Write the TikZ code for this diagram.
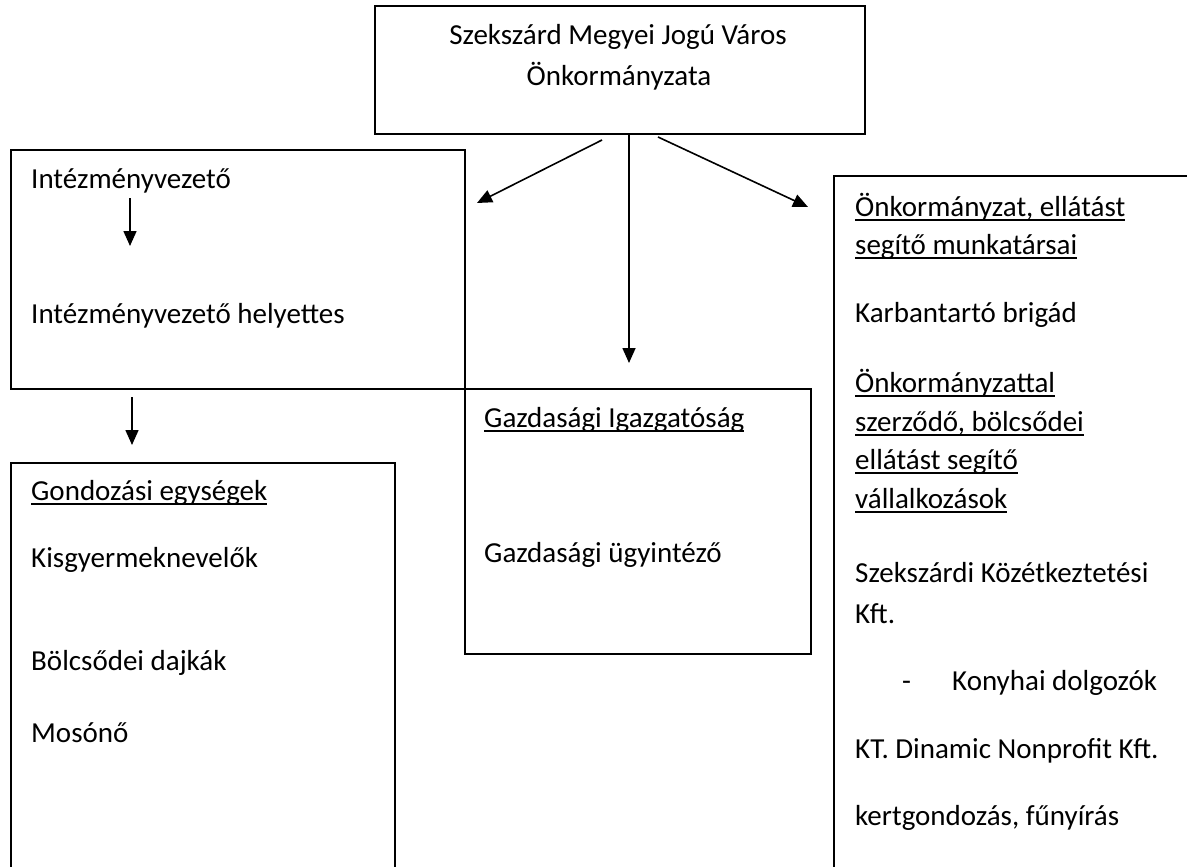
\documentclass[tikz,border=0pt]{standalone}
\usepackage{fontspec}
\setmainfont{Carlito}
\usetikzlibrary{arrows.meta}
\newcommand\myul[1]{\setbox0\hbox{#1}\rlap{\rule[-4.5pt]{\wd0}{1.8pt}}\box0}
\begin{document}
\begin{tikzpicture}[x=1pt,y=-1pt,
  boxst/.style={draw, line width=1.6pt, rectangle, inner sep=0pt, anchor=north west},
  txt/.style={anchor=base west, inner sep=0pt, font=\fontsize{29}{35}\selectfont},
  ctxt/.style={anchor=base, inner sep=0pt, font=\fontsize{29}{35}\selectfont},
  arr/.style={line width=1.6pt, -{Triangle[length=15pt,width=13pt]}}]
\useasboundingbox (0,0) rectangle (1187,867);
\clip (0,0) rectangle (1187,867);
% boxes
\node[boxst, minimum width=490pt, minimum height=128pt] (top) at (374,5) {};
\node[boxst, minimum width=454pt, minimum height=239pt] (lead) at (10,149) {};
\node[boxst, minimum width=346pt, minimum height=265pt] (gazd) at (464,388) {};
\node[boxst, minimum width=384pt, minimum height=460pt] (gond) at (10,462) {};
\node[boxst, minimum width=400pt, minimum height=750pt] (onk) at (833,175) {};
% top box text
\node[ctxt] (t1) at (618,45) {Szekszárd Megyei Jogú Város};
\node[ctxt] (t2) at (619,85) {Önkormányzata};
% left box text
\node[txt] (l1) at (31,188) {Intézményvezető};
\node[txt] (l2) at (31,323) {Intézményvezető helyettes};
% middle box text
\node[txt] (g1) at (484,427) {\myul{Gazdasági Igazgatóság}};
\node[txt] (g2) at (484,562) {Gazdasági ügyintéző};
% bottom left box text
\node[txt] (c1) at (31,500) {\myul{Gondozási egységek}};
\node[txt] (c2) at (31,567) {Kisgyermeknevelők};
\node[txt] (c3) at (31,670) {Bölcsődei dajkák};
\node[txt] (c4) at (31,742) {Mosónő};
% right box text
\node[txt] (r1) at (855,216) {\myul{Önkormányzat, ellátást}};
\node[txt] (r2) at (855,254) {\myul{segítő munkatársai}};
\node[txt] (r3) at (855,322) {Karbantartó brigád};
\node[txt] (r4) at (855,392) {\myul{Önkormányzattal}};
\node[txt] (r5) at (855,431) {\myul{szerződő, bölcsődei}};
\node[txt] (r6) at (855,469) {\myul{ellátást segítő}};
\node[txt] (r7) at (855,508) {\myul{vállalkozások}};
\node[txt] (r8) at (855,582) {Szekszárdi Közétkeztetési};
\node[txt] (r9) at (855,623) {Kft.};
\node[txt] (r10) at (902,690) {\makebox[50pt][l]{-}Konyhai dolgozók};
\node[txt] (r11) at (855,758) {KT. Dinamic Nonprofit Kft.};
\node[txt] (r12) at (855,825) {kertgondozás, fűnyírás};
% connector ends
\coordinate (a1s) at (602,140); \coordinate (a1e) at (477,203);
\coordinate (a2s) at (629,135); \coordinate (a2e) at (629,363);
\coordinate (a3s) at (658,137); \coordinate (a3e) at (808,207);
\coordinate (a4s) at (130,198); \coordinate (a4e) at (130,246);
\coordinate (a5s) at (132,397); \coordinate (a5e) at (132,445);
\draw[arr] (a1s) -- (a1e);
\draw[arr] (a2s) -- (a2e);
\draw[arr] (a3s) -- (a3e);
\draw[arr] (a4s) -- (a4e);
\draw[arr] (a5s) -- (a5e);
\end{tikzpicture}
\end{document}
